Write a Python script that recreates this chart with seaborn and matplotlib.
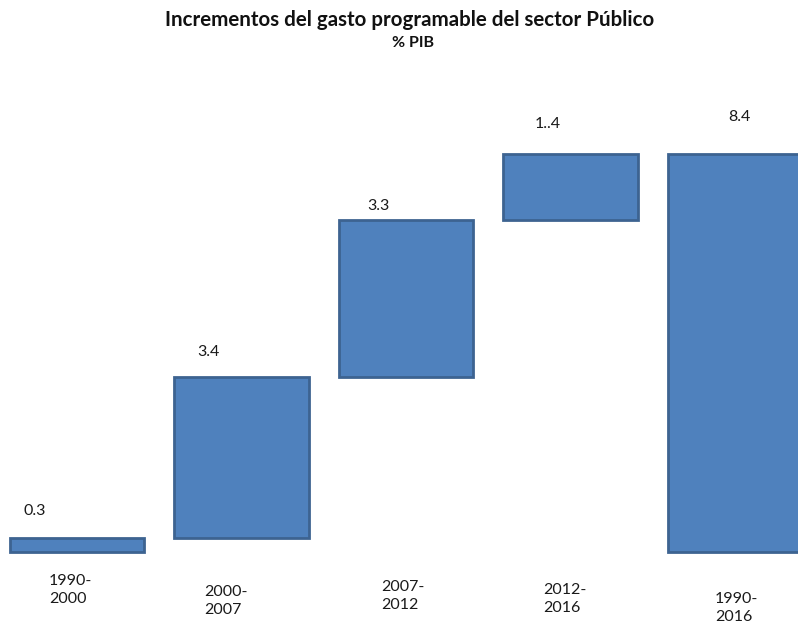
import numpy as np
import pandas as pd
import matplotlib
matplotlib.use("Agg")
import matplotlib.pyplot as plt
import seaborn as sns

# ---- data ----
periods = ["1990-\n2000", "2000-\n2007", "2007-\n2012", "2012-\n2016", "1990-\n2016"]
increments = [0.3, 3.4, 3.3, 1.4, 8.4]
value_labels = ["0.3", "3.4", "3.3", "1..4", "8.4"]
is_total = [False, False, False, False, True]

title = "Incrementos del gasto programable del sector Público"
subtitle = "% PIB"

# waterfall bottoms
bottoms = []
running = 0.0
for inc, tot in zip(increments, is_total):
    if tot:
        bottoms.append(0.0)
    else:
        bottoms.append(running)
        running += inc
tops = [b + h for b, h in zip(bottoms, increments)]

df = pd.DataFrame({"period": periods, "increment": increments})

sns.set_theme(style="white")
plt.rcParams["font.family"] = ["Lato", "DejaVu Sans"]

fig = plt.figure(figsize=(7.98, 6.24), dpi=100)
ax = fig.add_axes([0, 0, 1, 1])

sns.barplot(data=df, x="period", y="increment", order=periods,
            bottom=bottoms, color="#4F81BD", saturation=1,
            edgecolor="#3D6391", linewidth=2.0, width=0.82,
            errorbar=None, ax=ax)

px_per_unit_x = 164.5
px_per_unit_y = 47.4
ax.set_xlim(-77 / px_per_unit_x, (798 - 77) / px_per_unit_x)
ax.set_ylim(-(624 - 552) / px_per_unit_y, 552 / px_per_unit_y)
ax.axis("off")

# value labels (offsets in pixels from bar top-centre)
val_offsets = [(-42, 27), (-33, 25), (-28, 14), (-23, 30), (4, 37)]
for i, (lab, top) in enumerate(zip(value_labels, tops)):
    dx, dy = val_offsets[i]
    ax.annotate(lab, xy=(i, top), xytext=(dx * 0.72, dy * 0.72),
                textcoords="offset points", ha="center", va="center",
                fontsize=11.5, color="#1a1a1a")

# category labels (left edge pixel x, centre pixel y)
cat_pos = [(49, 590), (204, 601), (381, 596), (543, 599), (715, 608)]
for lab, (px, py) in zip(periods, cat_pos):
    fig.text(px / 798, 1 - py / 624, lab, ha="left", va="center",
             fontsize=11.5, color="#1a1a1a", linespacing=1.45)

fig.text(410 / 798, 1 - 20 / 624, title, ha="center", va="center",
         fontsize=14.8, fontweight="bold", color="#111111")
fig.text(413 / 798, 1 - 43 / 624, subtitle, ha="center", va="center",
         fontsize=11.5, fontweight="bold", color="#111111")

fig.savefig("out.png", dpi=100)
